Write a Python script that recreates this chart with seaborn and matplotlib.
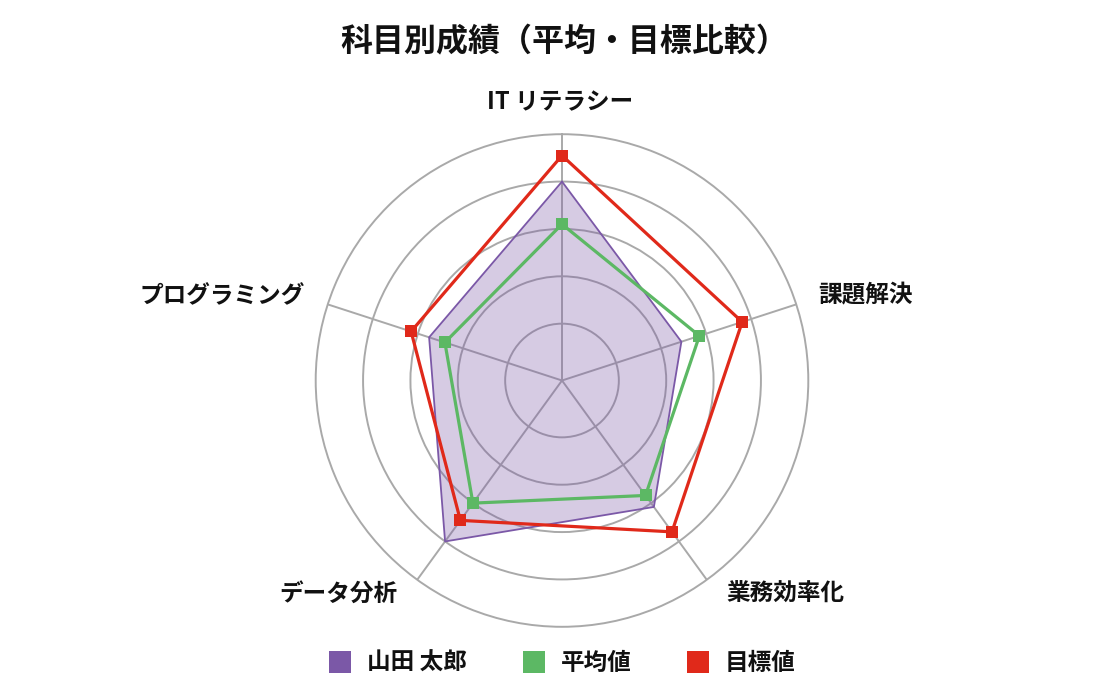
import numpy as np
import pandas as pd
import matplotlib
matplotlib.use("Agg")
import matplotlib.pyplot as plt
from matplotlib.lines import Line2D
import seaborn as sns

# ---- data ----
categories = ["IT リテラシー", "課題解決", "業務効率化", "データ分析", "プログラミング"]
yamada = [80, 49, 62, 80, 55]
average = [62, 57, 56, 60, 48]
target = [91, 76, 75, 69, 63]
series_names = ["山田 太郎", "平均値", "目標値"]
title = "科目別成績（平均・目標比較）"

colors = {"山田 太郎": "#7b58a7", "平均値": "#5cb864", "目標値": "#e0291a"}

sns.set_theme(style="white")
plt.rcParams['font.family'] = ['Noto Sans CJK JP', 'DejaVu Sans']

W, H = 1120, 700
fig = plt.figure(figsize=(W / 100, H / 100), dpi=100)
cx, cy, R = 562, 380.5, 246.3
ax = fig.add_axes([(cx - R) / W, (H - cy - R) / H, 2 * R / W, 2 * R / H], projection='polar')
ax.set_theta_offset(np.pi / 2)
ax.set_theta_direction(-1)

n = len(categories)
angles = np.linspace(0, 2 * np.pi, n, endpoint=False)
closed = np.concatenate([angles, [2 * np.pi]])

def close(v):
    return list(v) + [v[0]]

df = pd.DataFrame({
    "theta": np.tile(closed, 3),
    "value": close(yamada) + close(average) + close(target),
    "series": np.repeat(series_names, n + 1),
})

grid_c = "#a9a9a9"
ax.set_ylim(-4, 100)
ax.set_yticks([20, 40, 60, 80])
ax.set_yticklabels([])
ax.set_xticks(angles)
ax.set_xticklabels([])
ax.grid(True, color=grid_c, linewidth=1.4)
ax.spines['polar'].set_color(grid_c)
ax.spines['polar'].set_linewidth(1.4)
ax.set_facecolor("white")

# Yamada: filled polygon
d = df[df.series == "山田 太郎"]
ax.fill(d.theta, d.value, color=colors["山田 太郎"], alpha=0.31, linewidth=0, zorder=2)
sns.lineplot(data=d, x="theta", y="value", sort=False, ax=ax, color=colors["山田 太郎"],
             linewidth=1.3, legend=False, zorder=3)

for name in ["平均値", "目標値"]:
    d = df[df.series == name]
    sns.lineplot(data=d, x="theta", y="value", sort=False, ax=ax, color=colors[name],
                 linewidth=2.3, marker="s", markersize=8.7, markeredgewidth=0,
                 markeredgecolor=colors[name], legend=False, zorder=4)

ax.set_xlabel("")
ax.set_ylabel("")

# axis labels
offsets = [(-2, 32, "center"), (22, 9, "left"), (20, -14, "left"), (-20, -14, "right"), (-23, 8, "right")]
for ang, lab, (dx, dy, ha) in zip(angles, categories, offsets):
    ax.annotate(lab, xy=(ang, 100), xytext=(dx, dy), textcoords="offset pixels",
                ha=ha, va="center", fontsize=17, fontweight="bold", color="#111111",
                annotation_clip=False)

fig.text(564 / W, 1 - 42 / H, title, ha="center", va="center", fontsize=23,
         fontweight="bold", color="#111111")

handles = [Line2D([], [], marker="s", linestyle="none", markersize=15.5,
                  markeredgewidth=0, color=colors[s]) for s in series_names]
leg = fig.legend(handles, series_names, loc="center", bbox_to_anchor=(562 / W, 37 / H),
                 ncol=3, frameon=False, handlelength=1.0, handletextpad=0.64,
                 columnspacing=2.33, prop={"size": 17, "weight": "bold"})
for t in leg.get_texts():
    t.set_color("#111111")

fig.savefig("out.png", dpi=100, facecolor="white")
